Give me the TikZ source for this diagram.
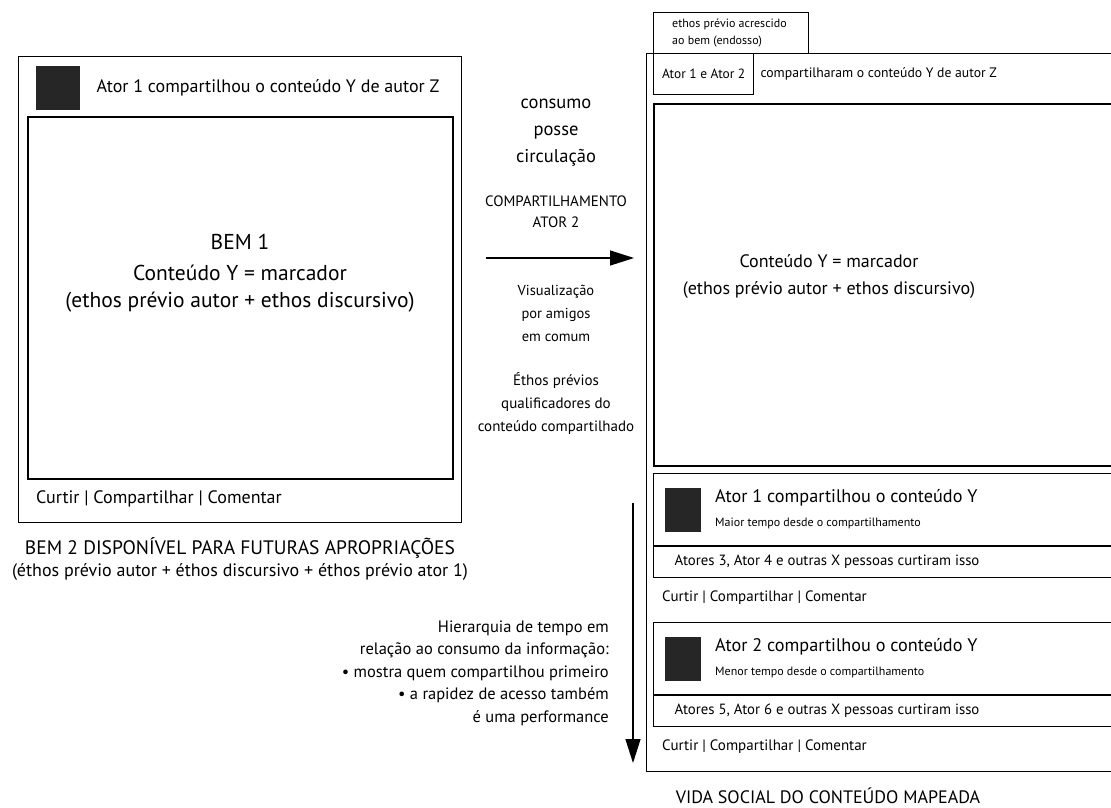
\documentclass[tikz,border=0pt]{standalone}
\usepackage{fontspec}
\setmainfont{PT Sans}
\usetikzlibrary{positioning, arrows.meta}

\begin{document}
\begin{tikzpicture}[x=1pt, y=-1pt,
    frame/.style={draw, line width=1.3pt, inner sep=0, anchor=north west},
    inner/.style={draw, line width=1.7pt, inner sep=0, anchor=north west},
    sq/.style={fill=black!85, minimum size=44pt, inner sep=0, anchor=north west},
    t/.style={inner sep=0, font=\fontsize{#1}{#1}\selectfont},
    seta/.style={line width=1.3pt, -{Triangle[length=24pt, width=15pt]}}]
  \useasboundingbox (0,0) rectangle (1111,807);

  % post original
  \node[frame, minimum width=443pt, minimum height=466pt] (post) at (18,56) {};
  \node[sq] (sq0) at (36,66) {};
  \node[t=18, anchor=west, right=16pt of sq0] (head0) {Ator 1 compartilhou o conteúdo Y de autor Z};
  \node[inner, minimum width=425pt, minimum height=362pt] (cont0) at (27,116) {};
  \node[t=21.5] (bem1) at (240,242) {BEM 1};
  \node[t=21.5, align=center, font=\fontsize{21.5}{27}\selectfont] (marc0) at (240,289)
    {Conteúdo Y = marcador\\(ethos prévio autor + ethos discursivo)};
  \node[t=18, anchor=west] (acao0) at (36,499) {Curtir | Compartilhar | Comentar};
  \node[t=19.5] (bem2) at (240,548) {BEM 2 DISPONÍVEL PARA FUTURAS APROPRIAÇÕES};
  \node[t=18] (bem2b) at (240,572) {(éthos prévio autor + éthos discursivo + éthos prévio ator 1)};

  % textos do meio
  \node[t=18.5, align=center, font=\fontsize{18.5}{27}\selectfont] (cons) at (556,133) {consumo\\posse\\circulação};
  \node[t=15, align=center, font=\fontsize{15}{21}\selectfont] (comp) at (556,212) {COMPARTILHAMENTO\\ATOR 2};
  \coordinate (sh0) at (486,258);
  \coordinate (sh1) at (634,258);
  \draw[seta] (sh0) -- (sh1);
  \node[t=14.5, align=center, font=\fontsize{14.5}{23}\selectfont] (vis) at (556,313) {Visualização\\por amigos\\em comum};
  \node[t=15, align=center, font=\fontsize{15}{23}\selectfont] (eth) at (556,403) {Éthos prévios\\qualificadores do\\conteúdo compartilhado};
  \coordinate (tm0) at (633,503);
  \coordinate (tm1) at (633,763);
  \draw[seta] (tm0) -- (tm1);
  \node[t=16.5, align=right, font=\fontsize{16.5}{22.5}\selectfont, anchor=east] (hier) at (609,673)
    {Hierarquia de tempo em\\relação ao consumo da informação:\\• mostra quem compartilhou primeiro\\• a rapidez de acesso também\\é uma performance};

  % post compartilhado
  \node[frame, minimum width=470pt, minimum height=718pt] (post2) at (646,53) {};
  \node[frame, minimum width=155pt, minimum height=41pt] (endo) at (653,12) {};
  \node[t=12, align=left, font=\fontsize{12}{17}\selectfont, anchor=west] (endot) at (672,33)
    {ethos prévio acrescido\\ao bem (endosso)};
  \node[frame, minimum width=100pt, minimum height=41pt] (atores) at (653,53) {};
  \node[t=13.4] at (atores) {Ator 1 e Ator 2};
  \node[t=13.7, anchor=west, right=6pt of atores] (head2) {compartilharam o conteúdo Y de autor Z};
  \node[inner, minimum width=470pt, minimum height=362pt] (cont2) at (653,103) {};
  \node[t=18, align=center, font=\fontsize{18}{27}\selectfont] (marc2) at (829,276)
    {Conteúdo Y = marcador\\(ethos prévio autor + ethos discursivo)};

  % compartilhamentos
  \foreach \n/\y/\quem/\tempo/\curt in {1/473/1/Maior/3, 2/622/2/Menor/5} {
    \node[frame, minimum width=470pt, minimum height=104pt] (share\n) at (653,\y) {};
    \draw[line width=1.3pt] (653,\y+73) -- (1123,\y+73);
    \node[sq, minimum size=0, minimum width=36pt, minimum height=44pt] (sqs\n) at (665,\y+15) {};
    \node[t=18.2, anchor=west] (qt\n) at (715,\y+25) {Ator \quem\ compartilhou o conteúdo Y};
    \node[t=12, anchor=west] (tp\n) at (715,\y+50) {\tempo\ tempo desde o compartilhamento};
    \node[t=14.8] (curt\n) at (827,\y+89) {Atores \curt, Ator \the\numexpr\curt+1\relax\ e outras X pessoas curtiram isso};
    \node[t=15, anchor=west] (ac\n) at (662,\y+125) {Curtir | Compartilhar | Comentar};
  }
  \node[t=18, anchor=base] (vida) at (828,803) {VIDA SOCIAL DO CONTEÚDO MAPEADA};
\end{tikzpicture}
\end{document}
